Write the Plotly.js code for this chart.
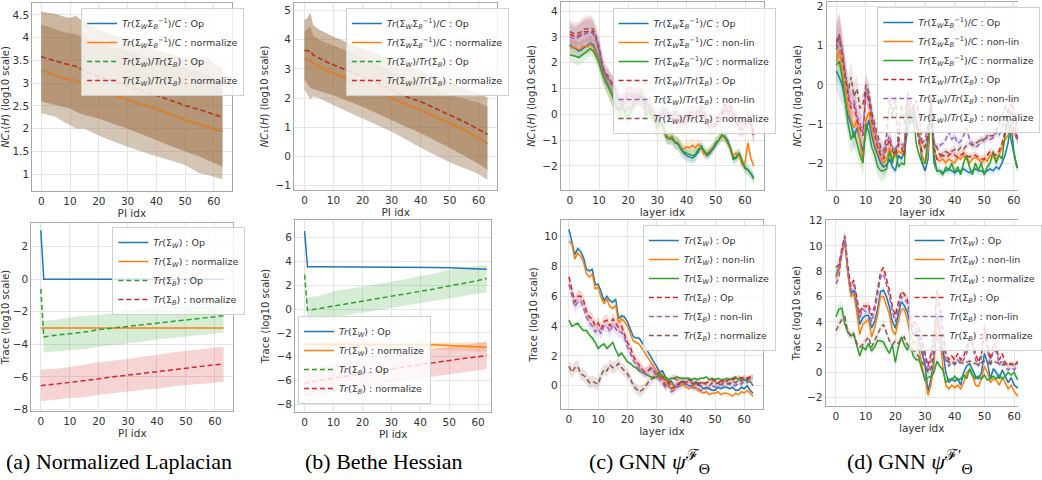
<!DOCTYPE html>
<html>
<head>
<meta charset="utf-8">
<script src="https://cdn.plot.ly/plotly-3.0.1.min.js"></script>
<style>html,body{margin:0;padding:0;background:#fff;}#chart{width:1042px;height:480px;}</style>
</head>
<body>
<div id="chart"></div>
<script>
// ---------------- DATA ----------------
// (a)/(b) use a coarse PI index grid; (c)/(d) use every layer index
const A_TOP_X = [0, 2, 5, 8, 10, 12, 15, 20, 25, 30, 35, 38, 40, 45, 50, 55, 58, 60, 63];
const A_TOP_NORM = [3.29, 3.24, 3.17, 3.10, 3.08, 3.05, 2.97, 2.87, 2.74, 2.63, 2.53, 2.47, 2.44, 2.31, 2.19, 2.09, 2.03, 2.00, 1.94];
const A_TOP_NORM_HI = [4.28, 4.25, 4.18, 4.12, 4.10, 4.08, 3.99, 3.88, 3.79, 3.70, 3.61, 3.55, 3.52, 3.43, 3.33, 3.26, 3.18, 3.12, 3.04];
const A_TOP_NORM_LO = [2.34, 2.30, 2.26, 2.14, 2.08, 2.00, 2.00, 1.85, 1.72, 1.60, 1.50, 1.43, 1.39, 1.30, 1.20, 1.02, 0.98, 0.95, 0.88];
const A_TOP_RATIO = [3.58, 3.54, 3.49, 3.43, 3.40, 3.37, 3.27, 3.14, 3.04, 2.94, 2.84, 2.77, 2.73, 2.62, 2.51, 2.42, 2.35, 2.31, 2.25];
const A_TOP_RATIO_HI = [4.57, 4.55, 4.52, 4.46, 4.43, 4.48, 4.33, 4.17, 4.06, 3.95, 3.84, 3.77, 3.73, 3.64, 3.55, 3.52, 3.56, 3.42, 3.35];
const A_TOP_RATIO_LO = [2.60, 2.57, 2.52, 2.47, 2.44, 2.37, 2.30, 2.22, 2.11, 2.00, 1.88, 1.80, 1.75, 1.62, 1.50, 1.39, 1.30, 1.24, 1.17];

const B_TOP_X = [0, 1, 2, 3, 5, 8, 10, 15, 20, 25, 27, 30, 35, 40, 45, 50, 55, 60, 63];
const B_TOP_NORM = [3.33, 3.32, 3.31, 3.19, 3.08, 2.93, 2.85, 2.66, 2.47, 2.28, 2.17, 2.00, 1.79, 1.60, 1.37, 1.14, 0.91, 0.62, 0.45];
const B_TOP_NORM_HI = [4.28, 4.35, 4.45, 4.15, 4.00, 3.88, 3.80, 3.60, 3.40, 3.15, 3.05, 2.90, 2.70, 2.50, 2.30, 2.10, 1.98, 1.85, 1.71];
const B_TOP_NORM_LO = [2.28, 2.10, 1.96, 2.05, 2.00, 1.85, 1.75, 1.52, 1.30, 1.08, 0.98, 0.85, 0.58, 0.30, 0.05, -0.20, -0.40, -0.60, -0.80];
const B_TOP_RATIO = [3.63, 3.62, 3.62, 3.48, 3.37, 3.22, 3.14, 2.94, 2.74, 2.53, 2.42, 2.28, 2.05, 1.88, 1.65, 1.42, 1.19, 0.93, 0.76];
const B_TOP_RATIO_HI = [4.68, 4.75, 4.93, 4.50, 4.35, 4.20, 4.10, 3.90, 3.70, 3.50, 3.40, 3.30, 3.10, 2.95, 2.75, 2.55, 2.35, 2.15, 2.03];
const B_TOP_RATIO_LO = [2.62, 2.50, 2.35, 2.30, 2.25, 2.15, 2.10, 1.90, 1.70, 1.48, 1.38, 1.25, 1.02, 0.80, 0.55, 0.30, 0.02, -0.25, -0.46];

const A_BOT_X = [0, 1, 5, 10, 15, 20, 25, 30, 35, 40, 45, 50, 55, 60, 63];
const A_BOT_W_OP = [3.0, 0, 0, 0, 0, 0, 0, 0, 0, 0, 0, 0, 0, 0, 0];
const A_BOT_W_NORM = [-3.0, -3.0, -3.0, -3.0, -3.0, -3.0, -3.0, -3.0, -3.0, -3.0, -3.0, -3.0, -3.0, -3.0, -3.0];
const A_BOT_B_OP = [-0.6, -3.55, -3.45, -3.35, -3.25, -3.1, -3.0, -2.9, -2.8, -2.7, -2.6, -2.5, -2.4, -2.3, -2.25];
const A_BOT_B_OP_HI = [-0.6, -2.55, -2.5, -2.35, -2.25, -2.2, -2.1, -1.95, -1.8, -1.7, -1.55, -1.45, -1.3, -1.2, -1.16];
const A_BOT_B_OP_LO = [-0.6, -4.5, -4.45, -4.35, -4.3, -4.15, -4.05, -3.95, -3.85, -3.7, -3.6, -3.55, -3.45, -3.35, -3.3];
const A_BOT_B_NORM = [-6.55, -6.52, -6.45, -6.35, -6.25, -6.12, -6.0, -5.9, -5.8, -5.7, -5.6, -5.5, -5.4, -5.28, -5.2];
const A_BOT_B_NORM_HI = [-5.55, -5.55, -5.5, -5.4, -5.25, -5.1, -5.0, -4.9, -4.75, -4.65, -4.5, -4.4, -4.3, -4.2, -4.15];
const A_BOT_B_NORM_LO = [-7.5, -7.5, -7.4, -7.3, -7.25, -7.1, -7.0, -6.9, -6.8, -6.75, -6.6, -6.55, -6.45, -6.35, -6.3];

const B_BOT_X = [0, 1, 5, 10, 15, 20, 25, 30, 35, 40, 45, 50, 55, 60, 63];
const B_BOT_W_OP = [6.55, 3.55, 3.55, 3.55, 3.55, 3.55, 3.55, 3.55, 3.55, 3.53, 3.5, 3.47, 3.43, 3.38, 3.35];
const B_BOT_W_NORM = [-2.95, -2.95, -2.95, -2.95, -2.95, -2.95, -2.95, -2.95, -2.95, -2.95, -3.0, -3.05, -3.1, -3.15, -3.2];
const B_BOT_W_NORM_HI = [-2.75, -2.75, -2.75, -2.75, -2.75, -2.75, -2.75, -2.75, -2.75, -2.75, -2.75, -2.75, -2.78, -2.8, -2.8];
const B_BOT_W_NORM_LO = [-3.3, -3.3, -3.3, -3.3, -3.3, -3.3, -3.3, -3.3, -3.3, -3.35, -3.4, -3.45, -3.5, -3.55, -3.6];
const B_BOT_B_OP = [2.9, -0.1, 0.05, 0.25, 0.45, 0.7, 0.9, 1.1, 1.3, 1.5, 1.7, 1.95, 2.15, 2.4, 2.58];
const B_BOT_B_OP_HI = [2.9, 1.0, 1.1, 1.5, 1.7, 1.9, 2.1, 2.3, 2.5, 2.8, 3.0, 3.3, 3.5, 3.65, 3.7];
const B_BOT_B_OP_LO = [2.9, -1.3, -0.9, -0.7, -0.5, -0.3, -0.1, 0.1, 0.3, 0.5, 0.7, 0.95, 1.1, 1.3, 1.4];
const B_BOT_B_NORM = [-6.3, -6.2, -6.0, -5.8, -5.6, -5.4, -5.2, -5.0, -4.85, -4.65, -4.5, -4.3, -4.15, -4.0, -3.9];
const B_BOT_B_NORM_HI = [-5.15, -5.05, -4.85, -4.65, -4.45, -4.25, -4.05, -3.85, -3.7, -3.5, -3.35, -3.15, -3.0, -2.85, -2.75];
const B_BOT_B_NORM_LO = [-7.45, -7.35, -7.15, -6.95, -6.75, -6.55, -6.35, -6.15, -6.0, -5.8, -5.65, -5.45, -5.3, -5.15, -5.05];

const LAYER_IDX = [0,1,2,3,4,5,6,7,8,9,10,11,12,13,14,15,16,17,18,19,20,21,22,23,24,25,26,27,28,29,30,31,32,33,34,35,36,37,38,39,40,41,42,43,44,45,46,47,48,49,50,51,52,53,54,55,56,57,58,59,60,61,62,63];

// (c) top: NC1 for GNN psi^F
const C_TOP_OP = [2.7,2.6,2.55,2.45,2.5,2.6,2.65,2.75,2.7,2.4, 2.1,1.7,1.4,1.15,0.9,0.65,0.3,0.2,0.4,0.1, 0.3,0.2,0.45,0.7,0.6,0.65,-0.05,0.15,0.05,-0.25, -0.45,-0.25,-0.45,-0.85,-0.95,-0.95,-1.1,-1.15,-1.35,-1.5, -1.6,-1.65,-1.7,-1.6,-1.45,-1.2,-1.45,-1.6,-1.5,-1.35, -1.15,-1.0,-0.85,-0.85,-1.0,-1.3,-1.7,-1.65,-1.5,-1.85, -2.05,-2.15,-2.3,-2.45];
const C_TOP_NONLIN = [2.65,2.55,2.6,2.5,2.6,2.65,2.6,2.7,2.6,2.35, 2.05,1.65,1.35,1.1,0.9,0.6,0.25,0.1,0.3,0.05, 0.2,0.25,0.5,0.7,0.65,0.7,0.0,0.2,0.1,-0.3, -0.6,-0.35,-0.5,-0.8,-0.9,-0.85,-1.05,-1.1,-1.3,-1.35, -1.25,-1.3,-1.2,-1.3,-1.15,-1.3,-1.55,-1.5,-1.4,-1.3, -1.1,-1.0,-0.85,-0.9,-1.1,-1.35,-1.6,-1.5,-1.6,-1.95, -1.9,-1.1,-1.7,-2.0];
const C_TOP_NORM = [2.3,2.28,2.25,2.2,2.28,2.35,2.45,2.55,2.45,2.25, 2.0,1.6,1.3,1.1,0.85,0.6,0.2,0.15,0.35,0.0, -0.1,0.15,0.4,0.7,0.6,0.7,-0.1,0.1,0.0,-0.3, -0.5,-0.3,-0.5,-0.9,-0.95,-0.9,-1.1,-1.1,-1.3,-1.45, -1.5,-1.55,-1.6,-1.55,-1.35,-1.3,-1.4,-1.55,-1.45,-1.3, -1.1,-1.0,-0.8,-0.85,-1.05,-1.3,-1.75,-1.7,-1.5,-1.8, -2.1,-2.15,-2.3,-2.5];
const C_TOP_TR_OP = [3.1,3.05,3.0,3.05,3.1,3.2,3.2,3.25,3.2,2.9, 2.5,1.95,1.55,1.4,1.2,1.1,0.7,0.4,0.4,0.6, 0.75,0.7,0.65,0.6,0.65,0.5,0.4,0.3,0.1,-0.05, -0.3,-0.15,0.05,0.0,-0.2,-0.3,-0.1,-0.2,-0.35,-0.3, -0.3,-0.15,-0.1,-0.2,0.0,0.1,-0.1,-0.35,-0.5,-0.5, -0.4,-0.3,-0.15,0.2,0.1,0.1,-0.1,-0.35,-0.55,-0.6, -0.45,-0.25,-0.4,-0.9];
const C_TOP_TR_NONLIN = [3.0,2.95,2.9,3.0,3.05,3.1,3.15,3.2,3.1,2.85, 2.45,1.9,1.5,1.4,1.2,1.1,0.75,0.45,0.45,0.65, 0.8,0.75,0.7,0.65,0.7,0.55,0.45,0.35,0.15,0.0, -0.2,-0.05,0.1,0.05,-0.1,-0.2,0.0,-0.1,-0.25,-0.2, -0.2,-0.05,0.0,-0.1,0.1,0.2,0.0,-0.25,-0.4,-0.4, -0.3,-0.2,-0.05,0.3,0.2,0.2,0.0,-0.2,-0.45,-0.5, -0.35,-0.15,-0.3,-0.8];
const C_TOP_TR_NORM = [3.2,3.15,3.1,3.15,3.2,3.3,3.3,3.35,3.3,3.0, 2.6,2.0,1.6,1.5,1.3,1.2,0.8,0.5,0.5,0.7, 0.85,0.8,0.75,0.7,0.75,0.6,0.5,0.4,0.2,0.05, -0.15,0.0,0.2,0.15,0.0,-0.1,0.1,0.0,-0.15,-0.1, -0.1,0.05,0.1,0.0,0.2,0.3,0.1,-0.15,-0.25,-0.25, -0.15,-0.1,0.05,0.4,0.3,0.3,0.1,-0.1,-0.3,-0.35, -0.2,0.0,-0.2,-0.7];
const C_TOP_SPREAD_SOLID = [0.3,0.3,0.3,0.3,0.3,0.3,0.3,0.3,0.3,0.3, 0.35,0.35,0.35,0.4,0.4,0.4,0.45,0.45,0.45,0.4, 0.4,0.35,0.35,0.3,0.3,0.3,0.3,0.3,0.3,0.3, 0.3,0.3,0.3,0.25,0.25,0.25,0.25,0.25,0.25,0.25, 0.25,0.25,0.25,0.25,0.2,0.2,0.2,0.2,0.2,0.2, 0.2,0.2,0.2,0.2,0.2,0.2,0.2,0.2,0.2,0.2, 0.2,0.2,0.2,0.2];
const C_TOP_SPREAD_DASH = [0.45,0.45,0.45,0.45,0.5,0.5,0.5,0.5,0.45,0.45, 0.4,0.4,0.35,0.35,0.35,0.35,0.35,0.35,0.35,0.35, 0.35,0.35,0.35,0.35,0.35,0.35,0.3,0.3,0.3,0.3, 0.3,0.3,0.3,0.3,0.3,0.3,0.3,0.3,0.3,0.3, 0.3,0.3,0.3,0.3,0.3,0.3,0.3,0.3,0.3,0.3, 0.3,0.3,0.3,0.3,0.3,0.3,0.3,0.3,0.3,0.3, 0.3,0.3,0.3,0.3];

// (d) top: NC1 for GNN psi^F'
const D_TOP_OP = [0.35,0.2,0.0,-0.4,-0.8,-1.0,-1.35,-1.1,-1.4,-1.7, -1.2,-0.9,-1.3,-1.6,-1.8,-2.0,-2.1,-2.05,-1.9,-2.1, -2.2,-1.8,-1.9,-1.7,-1.2,-0.7,-1.0,-0.9,-1.3,-2.0, -2.2,-1.9,-0.5,-1.8,-2.2,-2.2,-2.25,-2.2,-2.15,-2.2, -2.25,-2.2,-2.2,-2.15,-2.2,-2.25,-2.2,-2.15,-2.2,-2.2, -2.25,-2.2,-2.15,-2.2,-2.1,-2.15,-2.0,-1.8,-1.5,-1.0, -1.7,-2.1,-2.15,-2.2];
const D_TOP_NONLIN = [0.6,0.9,0.4,-0.1,-0.6,-0.9,-1.1,-0.9,-1.4,-2.0, -0.9,-0.7,-1.1,-1.5,-1.7,-1.9,-2.0,-1.9,-1.6,-1.9, -1.8,-1.7,-1.75,-1.5,-0.5,-0.6,-0.7,-0.9,-1.2,-1.8, -2.0,-1.7,-0.4,-1.6,-1.9,-1.95,-1.9,-2.0,-1.9,-1.95, -2.0,-1.85,-1.9,-1.8,-1.9,-2.0,-1.9,-1.85,-1.9,-2.0, -1.9,-1.95,-1.8,-1.85,-1.9,-1.8,-1.6,-1.4,-1.3,-1.1, -1.2,-1.3,-1.5,-1.6];
const D_TOP_NORM = [0.5,0.6,0.2,-0.4,-1.0,-1.4,-1.2,-1.5,-1.8,-2.0, -1.0,-1.2,-1.6,-1.8,-2.1,-2.2,-2.2,-2.15,-1.7,-2.0, -1.6,-2.1,-2.0,-2.05,-0.6,-1.0,-0.7,-1.5,-1.8,-2.0, -2.0,-1.4,-0.6,-2.0,-2.2,-2.2,-2.3,-2.1,-2.2,-2.0, -2.25,-2.1,-2.3,-2.0,-1.8,-2.1,-2.3,-2.0,-2.2,-2.0, -2.3,-2.1,-2.0,-1.7,-2.0,-1.8,-1.9,-1.3,-0.9,-1.4, -1.8,-2.1,-2.0,-2.1];
const D_TOP_TR_OP = [1.1,1.3,0.8,0.2,-0.3,-0.6,-0.5,-0.9,-1.1,-1.3, -0.2,-0.4,-0.9,-1.3,-1.6,-1.8,-1.9,-1.6,-1.4,-1.7, -1.8,-1.5,-1.6,-1.8,-0.4,-0.7,-0.6,-1.0,-1.5,-1.7, -1.6,-1.2,-0.5,-1.6,-1.9,-1.85,-1.8,-1.85,-1.8,-1.75, -1.8,-1.85,-1.8,-1.75,-1.8,-1.85,-1.8,-1.8,-1.85,-1.9, -1.9,-1.8,-1.7,-1.75,-1.8,-1.7,-1.5,-1.2,-0.7,-0.5, -1.0,-1.3,-1.6,-1.7];
const D_TOP_TR_NONLIN = [1.0,1.3,0.9,0.3,-0.2,-0.5,-0.4,-0.8,-1.0,-1.2, -0.1,-0.3,-0.8,-1.2,-1.5,-1.7,-1.8,-1.5,-1.3,-1.6, -1.7,-1.4,-1.5,-1.6,-0.3,-0.6,-0.5,-0.9,-1.3,-1.5, -1.4,-1.0,-0.3,-1.5,-1.6,-1.55,-1.5,-1.4,-1.2,-1.4, -1.3,-1.5,-1.45,-1.3,-1.1,-1.4,-1.5,-1.6,-1.55,-1.4, -1.45,-1.3,-1.4,-1.35,-1.2,-1.3,-1.1,-0.9,-0.6,-0.8, -1.2,-1.4,-1.5,-1.6];
const D_TOP_TR_NORM = [0.9,1.2,0.7,0.2,-0.2,0.2,-0.3,-0.1,-0.6,-0.5, 0.0,-0.2,-0.7,-1.0,-1.3,-1.6,-1.7,-1.3,-0.3,-0.8, -0.3,-1.6,-0.5,-1.0,-0.2,-0.4,-0.6,-0.4,-0.8,-1.5, -1.6,-1.4,-0.3,-1.5,-1.6,-1.8,-1.75,-1.7,-1.75,-1.7, -1.65,-1.7,-1.6,-1.65,-1.55,-1.5,-1.55,-1.5,-1.45,-1.4, -1.4,-1.35,-1.3,-1.3,-1.2,-1.0,-0.8,-0.6,-0.3,-0.4, -0.6,-1.1,-1.3,-1.3];
const D_TOP_SPREAD = [0.5,0.55,0.5,0.45,0.4,0.4,0.35,0.35,0.3,0.3, 0.3,0.3,0.3,0.25,0.25,0.25,0.25,0.2,0.2,0.15, 0.1,0.1,0.1,0.1,0.1,0.1,0.1,0.1,0.1,0.1, 0.1,0.1,0.1,0.1,0.1,0.1,0.1,0.1,0.1,0.1, 0.1,0.1,0.1,0.1,0.1,0.1,0.1,0.1,0.1,0.1, 0.1,0.1,0.1,0.1,0.1,0.1,0.1,0.1,0.1,0.1, 0.1,0.1,0.1,0.1];

// (c) bottom: traces for GNN psi^F
const C_BOT_W_OP = [10.5,9.7,8.8,9.2,9.0,8.6,7.8,7.7,7.8,6.8, 6.8,6.3,5.7,6.0,5.7,5.6,5.8,4.5,4.7,4.6, 4.3,3.8,3.3,3.2,3.2,2.9,2.6,2.3,1.95,1.6, 1.3,0.9,1.0,0.6,0.0,0.3,0.0,-0.1,0.2,0.3, 0.1,0.0,0.0,0.2,0.1,0.0,-0.2,-0.1,-0.2,-0.3, -0.3,-0.1,-0.2,-0.1,-0.1,-0.2,-0.1,-0.3,-0.3,-0.1, -0.2,0.0,-0.3,-0.5];
const C_BOT_W_NONLIN = [9.7,9.5,8.5,8.9,8.7,8.3,7.5,7.3,7.5,6.5, 6.6,5.9,5.5,5.8,5.3,5.2,5.4,4.2,4.5,4.3, 4.0,3.5,3.0,2.9,2.8,2.5,2.2,1.9,1.6,1.3, 1.0,0.6,0.8,0.4,-0.1,0.2,-0.2,-0.1,0.0,0.1, -0.1,-0.2,-0.1,0.0,-0.3,-0.4,-0.5,-0.4,-0.6,-0.5, -0.5,-0.4,-0.6,-0.5,-0.5,-0.6,-0.7,-0.5,-0.6,-0.4, -0.5,-0.3,-0.5,-0.7];
const C_BOT_W_NORM = [4.4,4.0,4.1,4.2,3.9,3.7,3.7,3.4,3.2,2.9, 2.5,2.7,2.8,2.5,2.7,2.9,2.4,2.0,2.2,1.9, 1.6,1.5,1.3,1.2,1.0,0.9,0.8,0.7,0.6,0.5, 0.6,0.8,0.6,0.6,0.4,0.5,0.5,0.6,0.5,0.5, 0.5,0.5,0.4,0.5,0.4,0.5,0.5,0.6,0.4,0.5, 0.4,0.5,0.4,0.4,0.5,0.4,0.5,0.6,0.4,0.5, 0.4,0.3,0.3,0.0];
const C_BOT_B_OP = [7.3,6.5,5.6,6.0,6.0,5.7,5.0,4.6,4.5,4.0, 4.2,3.8,4.3,4.4,4.0,4.5,4.2,3.9,4.0,3.5, 2.9,2.6,2.0,1.6,1.4,1.1,0.9,1.0,1.2,1.0, 0.7,0.6,0.4,0.0,0.3,-0.2,-0.1,0.1,0.2,0.3, 0.2,0.3,0.2,0.1,0.0,0.2,0.1,0.2,0.3,0.4, 0.3,0.2,0.3,0.4,0.3,0.5,0.4,0.5,0.6,0.5, 0.6,0.5,0.6,0.6];
const C_BOT_B_NONLIN = [6.8,6.0,5.3,5.6,5.7,5.2,4.6,4.2,4.0,3.6, 3.8,3.5,4.0,4.0,3.6,4.1,3.8,3.6,3.6,3.2, 2.6,2.2,1.7,1.4,1.2,0.9,0.8,0.9,1.1,1.2, 0.6,0.4,0.2,-0.1,0.1,-0.4,-0.3,-0.1,0.0,0.1, 0.1,0.0,-0.1,-0.2,-0.1,-0.3,-0.3,-0.2,-0.1,0.0, -0.1,0.0,0.1,0.0,0.1,0.2,0.1,0.0,0.2,0.1, 0.3,0.2,0.3,0.4];
const C_BOT_B_NORM = [1.3,0.9,1.2,1.3,0.8,0.7,0.5,0.2,0.3,0.2, 0.1,0.7,1.1,1.0,1.4,1.2,1.3,1.5,1.2,1.0, 0.8,0.5,0.0,-0.2,-0.4,-0.3,-0.1,0.2,0.4,0.6, 0.8,0.9,0.6,0.3,0.2,0.4,0.5,0.4,0.3,0.2, 0.3,0.4,0.3,0.3,0.2,0.1,0.2,0.1,0.0,0.2, 0.1,0.2,0.0,0.3,0.2,0.1,0.3,0.2,0.4,0.3, 0.5,0.4,0.5,0.6];
const C_BOT_SPREAD_DASH = [0.4,0.4,0.4,0.4,0.4,0.4,0.4,0.4,0.4,0.4, 0.4,0.4,0.4,0.4,0.4,0.4,0.4,0.4,0.4,0.4, 0.35,0.35,0.35,0.35,0.35,0.35,0.35,0.35,0.35,0.35, 0.3,0.3,0.3,0.3,0.3,0.3,0.3,0.3,0.3,0.3, 0.2,0.2,0.2,0.2,0.2,0.2,0.15,0.15,0.15,0.15, 0.15,0.15,0.15,0.15,0.15,0.15,0.15,0.15,0.15,0.15, 0.15,0.15,0.15,0.15];
const C_BOT_SPREAD_SOLID = [0.15,0.15,0.15,0.15,0.15,0.15,0.15,0.15,0.15,0.15, 0.15,0.15,0.15,0.15,0.15,0.15,0.15,0.15,0.15,0.15, 0.1,0.1,0.1,0.1,0.1,0.1,0.1,0.1,0.1,0.1, 0.1,0.1,0.1,0.1,0.1,0.1,0.1,0.1,0.1,0.1, 0.1,0.1,0.1,0.1,0.1,0.1,0.1,0.1,0.1,0.1, 0.1,0.1,0.1,0.1,0.1,0.1,0.1,0.1,0.1,0.1, 0.1,0.1,0.1,0.1];

// (d) bottom: traces for GNN psi^F'
const D_BOT_W_OP = [7.6,8.3,9.5,10.5,8.0,6.2,6.5,5.2,3.8,4.3, 4.5,4.5,3.5,4.0,5.0,6.4,6.5,6.0,5.2,4.0, 3.5,4.6,5.6,5.3,4.8,3.8,3.0,3.2,2.5,1.5, 0.6,-1.5,-0.5,1.0,4.6,3.5,1.5,0.0,-0.8,-0.5, -0.7,-0.5,-1.0,0.0,0.5,0.7,0.2,-0.3,-0.5,0.0, 1.5,0.8,-0.5,0.3,0.0,-0.5,0.2,-0.3,-0.8,-0.4, -1.0,-1.2,-1.3,-1.4];
const D_BOT_W_NONLIN = [7.5,8.0,9.4,10.3,7.8,6.0,6.2,4.8,3.0,3.8, 4.0,4.2,2.8,3.5,4.5,6.0,6.0,5.3,4.6,3.3, 3.0,4.0,5.0,5.0,4.2,3.0,2.3,2.5,1.8,0.5, -0.5,-1.8,-1.0,0.5,4.2,2.8,0.5,-1.0,-1.3,-1.0, -1.2,-1.0,-1.3,-0.8,0.0,0.2,-0.3,-1.0,-1.1,-0.5, 0.5,0.0,-0.8,-0.5,-0.6,-1.0,-0.4,-0.8,-1.3,-1.0, -1.5,-1.8,-1.8,-1.9];
const D_BOT_W_NORM = [4.4,5.0,5.1,3.8,3.2,2.9,3.0,2.2,1.3,2.0, 1.8,2.3,1.7,2.0,2.5,2.5,2.4,1.9,1.5,2.2, 0.8,2.0,2.8,2.2,1.8,2.2,1.3,1.0,1.0,0.2, -0.6,-0.4,-0.3,0.0,0.9,0.5,0.2,-0.8,-0.5,-0.6, -0.3,-0.6,-0.5,-0.2,-0.5,0.3,-0.2,-0.5,-0.3,-0.5, -0.2,-0.6,-0.5,-0.3,-0.5,-0.2,-0.5,-0.3,0.0,-0.2, 0.0,-0.5,-0.6,-0.5];
const D_BOT_B_OP = [8.3,8.5,9.8,10.8,8.5,6.8,7.3,6.0,4.6,5.3, 5.2,5.4,4.5,5.2,6.5,7.9,8.3,7.5,6.5,5.2, 4.5,5.5,6.4,6.2,5.8,4.5,4.0,3.8,3.5,2.5, 1.5,0.5,1.5,3.0,6.5,5.2,3.5,1.5,1.0,1.3, 1.0,1.5,1.0,1.3,2.0,2.8,2.5,1.5,0.8,1.5, 3.7,2.5,1.0,2.3,2.0,1.0,1.5,0.8,0.5,0.7, 0.5,0.8,0.7,0.8];
const D_BOT_B_NONLIN = [7.0,7.5,9.5,10.5,8.0,6.4,7.0,5.6,4.2,5.0, 4.8,5.0,4.0,4.8,6.0,7.5,7.8,7.0,6.0,4.8, 4.0,5.0,6.0,5.8,5.5,4.2,3.5,3.5,3.0,2.0, 1.0,0.0,1.0,2.5,6.0,4.8,3.0,1.0,0.5,0.8, 0.6,1.0,0.7,1.0,1.5,2.5,2.2,1.0,0.5,1.2, 3.2,2.0,0.5,1.8,1.6,0.6,1.0,0.4,0.2,0.4, 0.2,0.5,0.4,0.5];
const D_BOT_B_NORM = [3.3,3.8,4.2,4.4,3.2,2.9,3.1,2.3,2.0,2.2, 2.5,2.8,2.0,2.5,3.0,3.5,3.8,3.2,2.5,2.2, 2.5,2.3,2.6,2.8,2.2,2.0,1.8,1.5,1.2,0.8, 0.5,0.0,0.3,1.5,3.0,2.0,1.5,1.0,0.8,0.9, 0.7,0.9,0.8,0.7,0.8,0.9,0.8,0.7,0.6,0.8, 0.9,0.8,0.7,0.9,0.8,0.7,0.6,0.7,0.6,0.7, 0.6,0.8,0.7,0.8];
const D_BOT_SPREAD = [0.5,0.5,0.6,0.6,0.4,0.3,0.3,0.3,0.3,0.3, 0.3,0.3,0.3,0.3,0.3,0.3,0.3,0.3,0.3,0.3, 0.3,0.3,0.3,0.3,0.3,0.3,0.3,0.3,0.3,0.3, 0.3,0.3,0.3,0.3,0.3,0.3,0.2,0.2,0.2,0.2, 0.2,0.2,0.2,0.2,0.2,0.2,0.2,0.2,0.2,0.2, 0.2,0.2,0.2,0.2,0.2,0.2,0.2,0.2,0.2,0.2, 0.2,0.2,0.2,0.2];

// Labels
const NC_OP = "<i>Tr</i>(Σ<sub><i>W</i></sub>Σ<sub><i>B</i></sub><sup>−1</sup>)/<i>C</i> : Op";
const NC_NONLIN = "<i>Tr</i>(Σ<sub><i>W</i></sub>Σ<sub><i>B</i></sub><sup>−1</sup>)/<i>C</i> : non-lin";
const NC_NORM = "<i>Tr</i>(Σ<sub><i>W</i></sub>Σ<sub><i>B</i></sub><sup>−1</sup>)/<i>C</i> : normalize";
const TR_RATIO_OP = "<i>Tr</i>(Σ<sub><i>W</i></sub>)/<i>Tr</i>(Σ<sub><i>B</i></sub>) : Op";
const TR_RATIO_NONLIN = "<i>Tr</i>(Σ<sub><i>W</i></sub>)/<i>Tr</i>(Σ<sub><i>B</i></sub>) : non-lin";
const TR_RATIO_NORM = "<i>Tr</i>(Σ<sub><i>W</i></sub>)/<i>Tr</i>(Σ<sub><i>B</i></sub>) : normalize";
const TW_OP = "<i>Tr</i>(Σ<sub><i>W</i></sub>) : Op";
const TW_NONLIN = "<i>Tr</i>(Σ<sub><i>W</i></sub>) : non-lin";
const TW_NORM = "<i>Tr</i>(Σ<sub><i>W</i></sub>) : normalize";
const TB_OP = "<i>Tr</i>(Σ<sub><i>B</i></sub>) : Op";
const TB_NONLIN = "<i>Tr</i>(Σ<sub><i>B</i></sub>) : non-lin";
const TB_NORM = "<i>Tr</i>(Σ<sub><i>B</i></sub>) : normalize";
const CAPTIONS = ["(a) Normalized Laplacian", "(b) Bethe Hessian", "(c) GNN <i>ψ</i><sup>ℱ</sup><sub>Θ</sub>", "(d) GNN <i>ψ</i><sup>ℱ′</sup><sub>Θ</sub>"];
const Y_TITLE_NC = "<i>NC</i>₁(<i>H</i>) (log10 scale)";
const Y_TITLE_TR = "Trace (log10 scale)";
const X_TITLE_PI = "PI idx";
const X_TITLE_LAYER = "layer idx";

// ---------------- STYLE ----------------
const C = {blue:'#1f77b4', orange:'#ff7f0e', green:'#2ca02c', red:'#d62728', purple:'#9467bd', brown:'#8c564b'};
const W = 1042, H = 480;
function rgba(hex, a){const n=parseInt(hex.slice(1),16);return `rgba(${n>>16},${(n>>8)&255},${n&255},${a})`;}
function addSpread(m, s, sign){return m.map((v,i)=>v+sign*s[i]);}

const traces = [];
function bandTrace(x, hi, lo, color, k, alpha){
  const ax = k===1?'':String(k);
  traces.push({x: x.concat(x.slice().reverse()), y: hi.concat(lo.slice().reverse()), type:'scatter', mode:'lines',
    fill:'toself', fillcolor: rgba(color, alpha||0.25), line:{width:0, color:'rgba(0,0,0,0)'}, hoverinfo:'skip', showlegend:false,
    xaxis:'x'+ax, yaxis:'y'+ax});
}
function lineTrace(x, y, color, dashed, name, k){
  const ax = k===1?'':String(k);
  traces.push({x:x, y:y, type:'scatter', mode:'lines', name:name,
    line:{color:color, width:1.5, dash: dashed ? '5px,3px' : 'solid'},
    xaxis:'x'+ax, yaxis:'y'+ax, legend: k===1?'legend':'legend'+k});
}

// Panel 1: (a) top
bandTrace(A_TOP_X, A_TOP_NORM_HI, A_TOP_NORM_LO, C.blue, 1);
bandTrace(A_TOP_X, A_TOP_NORM_HI, A_TOP_NORM_LO, C.orange, 1);
bandTrace(A_TOP_X, A_TOP_RATIO_HI, A_TOP_RATIO_LO, C.green, 1);
bandTrace(A_TOP_X, A_TOP_RATIO_HI, A_TOP_RATIO_LO, C.red, 1);
lineTrace(A_TOP_X, A_TOP_NORM, C.blue, false, NC_OP, 1);
lineTrace(A_TOP_X, A_TOP_NORM, C.orange, false, NC_NORM, 1);
lineTrace(A_TOP_X, A_TOP_RATIO, C.green, true, TR_RATIO_OP, 1);
lineTrace(A_TOP_X, A_TOP_RATIO, C.red, true, TR_RATIO_NORM, 1);

// Panel 2: (b) top
bandTrace(B_TOP_X, B_TOP_NORM_HI, B_TOP_NORM_LO, C.blue, 2);
bandTrace(B_TOP_X, B_TOP_NORM_HI, B_TOP_NORM_LO, C.orange, 2);
bandTrace(B_TOP_X, B_TOP_RATIO_HI, B_TOP_RATIO_LO, C.green, 2);
bandTrace(B_TOP_X, B_TOP_RATIO_HI, B_TOP_RATIO_LO, C.red, 2);
lineTrace(B_TOP_X, B_TOP_NORM, C.blue, false, NC_OP, 2);
lineTrace(B_TOP_X, B_TOP_NORM, C.orange, false, NC_NORM, 2);
lineTrace(B_TOP_X, B_TOP_RATIO, C.green, true, TR_RATIO_OP, 2);
lineTrace(B_TOP_X, B_TOP_RATIO, C.red, true, TR_RATIO_NORM, 2);

// Panel 3: (c) top
[[C_TOP_OP,C.blue],[C_TOP_NONLIN,C.orange],[C_TOP_NORM,C.green]].forEach(([m,c])=>bandTrace(LAYER_IDX, addSpread(m,C_TOP_SPREAD_SOLID,1), addSpread(m,C_TOP_SPREAD_SOLID,-1), c, 3, 0.15));
[[C_TOP_TR_OP,C.red],[C_TOP_TR_NONLIN,C.purple],[C_TOP_TR_NORM,C.brown]].forEach(([m,c])=>bandTrace(LAYER_IDX, addSpread(m,C_TOP_SPREAD_DASH,1), addSpread(m,C_TOP_SPREAD_DASH,-1), c, 3, 0.15));
lineTrace(LAYER_IDX, C_TOP_OP, C.blue, false, NC_OP, 3);
lineTrace(LAYER_IDX, C_TOP_NONLIN, C.orange, false, NC_NONLIN, 3);
lineTrace(LAYER_IDX, C_TOP_NORM, C.green, false, NC_NORM, 3);
lineTrace(LAYER_IDX, C_TOP_TR_OP, C.red, true, TR_RATIO_OP, 3);
lineTrace(LAYER_IDX, C_TOP_TR_NONLIN, C.purple, true, TR_RATIO_NONLIN, 3);
lineTrace(LAYER_IDX, C_TOP_TR_NORM, C.brown, true, TR_RATIO_NORM, 3);

// Panel 4: (d) top
[[D_TOP_OP,C.blue],[D_TOP_NONLIN,C.orange],[D_TOP_NORM,C.green],[D_TOP_TR_OP,C.red],[D_TOP_TR_NONLIN,C.purple],[D_TOP_TR_NORM,C.brown]].forEach(([m,c])=>bandTrace(LAYER_IDX, addSpread(m,D_TOP_SPREAD,1), addSpread(m,D_TOP_SPREAD,-1), c, 4, 0.15));
lineTrace(LAYER_IDX, D_TOP_OP, C.blue, false, NC_OP, 4);
lineTrace(LAYER_IDX, D_TOP_NONLIN, C.orange, false, NC_NONLIN, 4);
lineTrace(LAYER_IDX, D_TOP_NORM, C.green, false, NC_NORM, 4);
lineTrace(LAYER_IDX, D_TOP_TR_OP, C.red, true, TR_RATIO_OP, 4);
lineTrace(LAYER_IDX, D_TOP_TR_NONLIN, C.purple, true, TR_RATIO_NONLIN, 4);
lineTrace(LAYER_IDX, D_TOP_TR_NORM, C.brown, true, TR_RATIO_NORM, 4);

// Panel 5: (a) bottom
bandTrace(A_BOT_X, A_BOT_B_OP_HI, A_BOT_B_OP_LO, C.green, 5, 0.2);
bandTrace(A_BOT_X, A_BOT_B_NORM_HI, A_BOT_B_NORM_LO, C.red, 5, 0.2);
lineTrace(A_BOT_X, A_BOT_W_OP, C.blue, false, TW_OP, 5);
lineTrace(A_BOT_X, A_BOT_W_NORM, C.orange, false, TW_NORM, 5);
lineTrace(A_BOT_X, A_BOT_B_OP, C.green, true, TB_OP, 5);
lineTrace(A_BOT_X, A_BOT_B_NORM, C.red, true, TB_NORM, 5);

// Panel 6: (b) bottom
bandTrace(B_BOT_X, B_BOT_W_NORM_HI, B_BOT_W_NORM_LO, C.orange, 6, 0.2);
bandTrace(B_BOT_X, B_BOT_B_OP_HI, B_BOT_B_OP_LO, C.green, 6, 0.2);
bandTrace(B_BOT_X, B_BOT_B_NORM_HI, B_BOT_B_NORM_LO, C.red, 6, 0.2);
lineTrace(B_BOT_X, B_BOT_W_OP, C.blue, false, TW_OP, 6);
lineTrace(B_BOT_X, B_BOT_W_NORM, C.orange, false, TW_NORM, 6);
lineTrace(B_BOT_X, B_BOT_B_OP, C.green, true, TB_OP, 6);
lineTrace(B_BOT_X, B_BOT_B_NORM, C.red, true, TB_NORM, 6);

// Panel 7: (c) bottom
[[C_BOT_W_OP,C.blue],[C_BOT_W_NONLIN,C.orange],[C_BOT_W_NORM,C.green]].forEach(([m,c])=>bandTrace(LAYER_IDX, addSpread(m,C_BOT_SPREAD_SOLID,1), addSpread(m,C_BOT_SPREAD_SOLID,-1), c, 7, 0.15));
[[C_BOT_B_OP,C.red],[C_BOT_B_NONLIN,C.purple],[C_BOT_B_NORM,C.brown]].forEach(([m,c])=>bandTrace(LAYER_IDX, addSpread(m,C_BOT_SPREAD_DASH,1), addSpread(m,C_BOT_SPREAD_DASH,-1), c, 7, 0.18));
lineTrace(LAYER_IDX, C_BOT_W_OP, C.blue, false, TW_OP, 7);
lineTrace(LAYER_IDX, C_BOT_W_NONLIN, C.orange, false, TW_NONLIN, 7);
lineTrace(LAYER_IDX, C_BOT_W_NORM, C.green, false, TW_NORM, 7);
lineTrace(LAYER_IDX, C_BOT_B_OP, C.red, true, TB_OP, 7);
lineTrace(LAYER_IDX, C_BOT_B_NONLIN, C.purple, true, TB_NONLIN, 7);
lineTrace(LAYER_IDX, C_BOT_B_NORM, C.brown, true, TB_NORM, 7);

// Panel 8: (d) bottom
[[D_BOT_W_OP,C.blue],[D_BOT_W_NONLIN,C.orange],[D_BOT_W_NORM,C.green],[D_BOT_B_OP,C.red],[D_BOT_B_NONLIN,C.purple],[D_BOT_B_NORM,C.brown]].forEach(([m,c])=>bandTrace(LAYER_IDX, addSpread(m,D_BOT_SPREAD,1), addSpread(m,D_BOT_SPREAD,-1), c, 8, 0.12));
lineTrace(LAYER_IDX, D_BOT_W_OP, C.blue, false, TW_OP, 8);
lineTrace(LAYER_IDX, D_BOT_W_NONLIN, C.orange, false, TW_NONLIN, 8);
lineTrace(LAYER_IDX, D_BOT_W_NORM, C.green, false, TW_NORM, 8);
lineTrace(LAYER_IDX, D_BOT_B_OP, C.red, true, TB_OP, 8);
lineTrace(LAYER_IDX, D_BOT_B_NONLIN, C.purple, true, TB_NONLIN, 8);
lineTrace(LAYER_IDX, D_BOT_B_NORM, C.brown, true, TB_NORM, 8);

// ---------------- LAYOUT ----------------
// panel boxes in pixels: [left, right, top, bottom], axis ranges, tick steps, titles, legend anchor
const PANELS = [
  {box:[33,237,3,191],   xr:[-3.15,66.15], yr:[0.63,4.76],  dy:0.5, xt:X_TITLE_PI,    yt:Y_TITLE_NC, lg:[83,8,'top']},
  {box:[301,509,3,190],  xr:[-3.6,66.4],   yr:[-1.15,5.26], dy:1,   xt:X_TITLE_PI,    yt:Y_TITLE_NC, lg:[354,8,'top']},
  {box:[574,782,2,190],  xr:[-3.1,66.5],   yr:[-2.93,4.35], dy:1,   xt:X_TITLE_LAYER, yt:Y_TITLE_NC, lg:[627,8,'top']},
  {box:[846,1042,2,190], xr:[-3.3,61.4],   yr:[-2.69,2.12], dy:1,   xt:X_TITLE_LAYER, yt:Y_TITLE_NC, lg:[898,7,'top'], open:true},
  {box:[32,239,223,411], xr:[-3.3,66.4],   yr:[-8.1,3.45],  dy:2,   xt:X_TITLE_PI,    yt:Y_TITLE_TR, lg:[115,227,'top']},
  {box:[302,503,220,412],xr:[-3.3,64.6],   yr:[-8.65,7.49], dy:2,   xt:X_TITLE_PI,    yt:Y_TITLE_TR, lg:[305,404,'bottom']},
  {box:[574,781,220,409],xr:[-2.8,66.4],   yr:[-1.56,11.12],dy:2,   xt:X_TITLE_LAYER, yt:Y_TITLE_TR, lg:[658,225,'top']},
  {box:[845,1042,220,406],xr:[-3.5,61.3],  yr:[-2.65,12.05],dy:2,   xt:X_TITLE_LAYER, yt:Y_TITLE_TR, lg:[930,225,'top'], open:true}
];

const tickFont = {family:'DejaVu Sans, sans-serif', size:10.5, color:'#333'};
const layout = {
  width:W, height:H, margin:{l:0,r:0,t:0,b:0}, paper_bgcolor:'#fff', plot_bgcolor:'#fff',
  hovermode:false, font:{family:'DejaVu Sans, sans-serif', color:'#333'}, annotations:[]
};
PANELS.forEach((p,i)=>{
  const k=i+1, s=k===1?'':String(k);
  const [L,R,T,B]=p.box;
  layout['xaxis'+s] = {domain:[L/W, Math.min(1,R/W)], range:p.xr, anchor:'y'+s, dtick:10, tick0:0,
    showgrid:true, gridcolor:'#e5e5e5', zeroline:false, showline:true, linecolor:'#a8a8a8', linewidth:1, mirror:true,
    ticks:'', tickfont:tickFont, title:{text:p.xt, font:{size:10.5, color:'#333'}, standoff:1}};
  layout['yaxis'+s] = {domain:[1-B/H, 1-T/H], range:p.yr, anchor:'x'+s, dtick:p.dy,
    showgrid:true, gridcolor:'#e5e5e5', zeroline:false, showline:true, linecolor:'#a8a8a8', linewidth:1, mirror: p.open ? false : true,
    ticks:'', tickfont:tickFont, title:{text:p.yt, font:{size:10, color:'#333'}, standoff:4}};
  layout[k===1?'legend':'legend'+k] = {x:p.lg[0]/W, y:1-p.lg[1]/H, xanchor:'left', yanchor:p.lg[2],
    bgcolor:'rgba(255,255,255,0.8)', bordercolor:'#d0d0d0', borderwidth:1, itemwidth:30,
    font:{family:'DejaVu Sans, sans-serif', size:9.5, color:'#333'}, tracegroupgap:0};
});
const CAP_X = [122, 393, 665, 931];
CAPTIONS.forEach((t,i)=>layout.annotations.push({text:t, xref:'paper', yref:'paper', x:CAP_X[i]/W, y:1-461/H,
  xanchor:'center', yanchor:'middle', showarrow:false, font:{family:'Liberation Serif, Times New Roman, serif', size:22, color:'#000'}}));

Plotly.newPlot('chart', traces, layout, {staticPlot:true, displayModeBar:false});
</script>
</body>
</html>
